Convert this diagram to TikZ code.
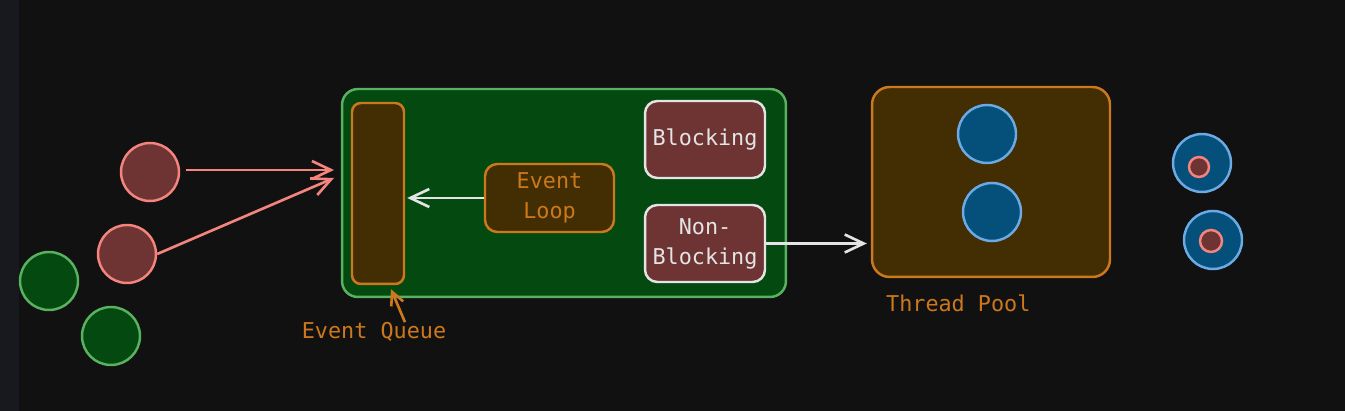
\documentclass[tikz,border=0pt]{standalone}
\usepackage{fontspec}
\setmonofont{DejaVu Sans Mono}
\usetikzlibrary{arrows.meta,positioning}
\definecolor{bgblack}{RGB}{17,17,17}
\definecolor{stripgray}{RGB}{23,25,30}
\definecolor{darkgreen}{RGB}{4,74,16}
\definecolor{lightgreen}{RGB}{88,178,96}
\definecolor{darkred}{RGB}{110,52,52}
\definecolor{lightred}{RGB}{245,132,126}
\definecolor{darkbrown}{RGB}{66,46,2}
\definecolor{orangeline}{RGB}{204,120,28}
\definecolor{darkblue}{RGB}{4,80,122}
\definecolor{lightblue}{RGB}{108,170,228}
\definecolor{softwhite}{RGB}{228,228,228}
\tikzset{
  box/.style={rectangle, rounded corners=7pt, line width=1.4pt, align=center,
              font=\ttfamily\fontsize{12.4}{17}\selectfont, inner sep=0pt},
  boxgreen/.style={box, fill=darkgreen, draw=lightgreen, rounded corners=9pt},
  boxbrown/.style={box, fill=darkbrown, draw=orangeline, text=orangeline},
  boxred/.style={box, fill=darkred, draw=softwhite, text=softwhite},
  ball/.style={circle, minimum size=1.16cm, inner sep=0pt, line width=1.4pt},
  ballgreen/.style={ball, fill=darkgreen, draw=lightgreen},
  ballred/.style={ball, fill=darkred, draw=lightred},
  ballblue/.style={ball, fill=darkblue, draw=lightblue},
  dot/.style={ballred, minimum size=0.4cm},
  arrow/.style={-{Straight Barb[length=3.8mm,width=3.6mm]}, line width=1.5pt},
  arrowred/.style={arrow, lightred},
  arrowwhite/.style={arrow, softwhite},
  arroworange/.style={arrow, orangeline, -{Straight Barb[length=2.6mm,width=2.6mm]}},
  label/.style={font=\ttfamily\fontsize{12.4}{17}\selectfont, text=orangeline, inner sep=0pt},
}
\begin{document}
\begin{tikzpicture}[x=0.02cm, y=-0.02cm]
\useasboundingbox (0,0) rectangle (1345,411);
\fill[bgblack] (0,0) rectangle (1345,411);
\fill[stripgray] (0,0) rectangle (19,411);

% incoming requests
\node[ballgreen] (g1) at (49,281) {};
\node[ballgreen] (g2) at (111,336) {};
\node[ballred] (r1) at (150,172) {};
\node[ballred] (r2) at (127,254) {};

% main process
\node[boxgreen, minimum width=8.88cm, minimum height=4.16cm] (proc) at (564,193) {};
\node[boxbrown, rounded corners=5pt, minimum width=1.04cm, minimum height=3.62cm] (queue) at (378,193.5) {};
\node[boxbrown, minimum width=2.58cm, minimum height=1.36cm] (loop) at (549.5,198) {Event\\Loop};
\node[boxred, minimum width=2.4cm, minimum height=1.54cm] (block) at (705,139.5) {Blocking};
\node[boxred, minimum width=2.4cm, minimum height=1.54cm] (nonblock) at (705,243.5) {Non-\\Blocking};
\node[label, below=0.74cm of queue, xshift=-0.08cm] (qname) {Event Queue};

% thread pool
\node[boxbrown, rounded corners=10pt, minimum width=4.76cm, minimum height=3.8cm] (pool) at (991,182) {};
\node[ballblue] (t1) at (987,134) {};
\node[ballblue] (t2) at (992,212) {};
\node[label, below right=0.32cm and 0.3cm of pool.south west] (pname) {Thread Pool};

% finished work
\node[ballblue] (w1) at (1202,163) {};
\node[dot] (d1) at (1199,167) {};
\node[ballblue] (w2) at (1213,240) {};
\node[dot, minimum size=0.44cm] (d2) at (1211,241) {};

\coordinate (in1) at (334,170);
\coordinate (in2) at (334,178);
\draw[arrowred, shorten <=0.12cm] (r1.east |- in1) -- (in1);
\draw[arrowred] (r2.east) -- (in2);
\draw[arrowwhite, shorten >=0.04cm] (loop.west) -- (loop.west -| queue.east);
\draw[arrowwhite, shorten >=0.08cm] (nonblock.east) -- (nonblock.east -| pool.west);
\draw[arroworange] ([xshift=0.62cm]qname.north) -- ([xshift=0.26cm,yshift=-0.08cm]queue.south);
\end{tikzpicture}
\end{document}
